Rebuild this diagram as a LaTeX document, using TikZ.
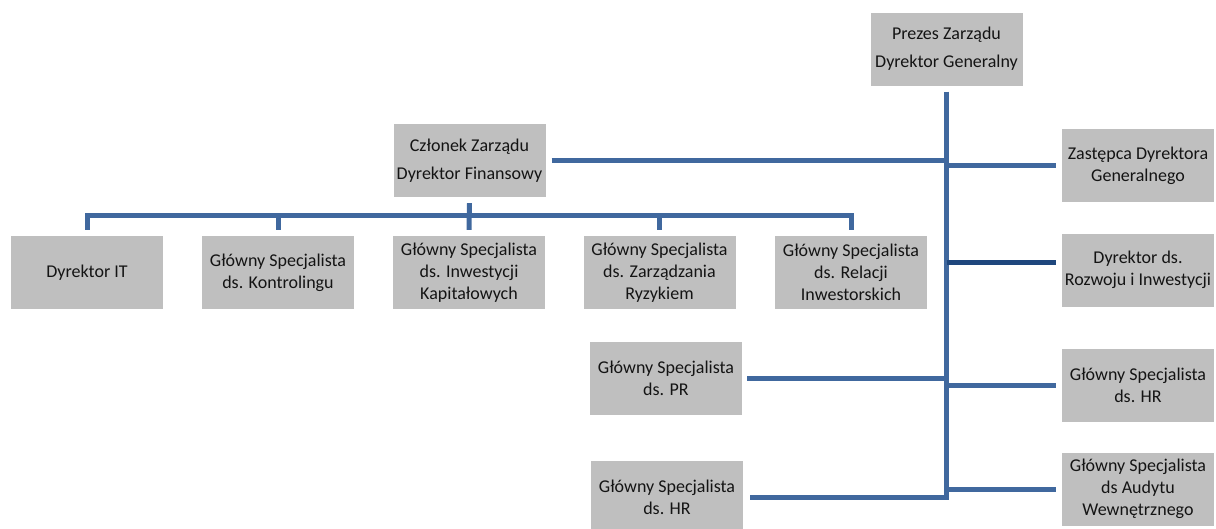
\documentclass[tikz,border=0pt]{standalone}
\usepackage{fontspec}
\setmainfont{Carlito}
\usetikzlibrary{calc}
\definecolor{boxgray}{RGB}{191,191,191}
\definecolor{linkblue}{RGB}{64,104,158}
\definecolor{darkblue}{RGB}{31,71,125}
\definecolor{txt}{RGB}{20,20,20}
\begin{document}
\begin{tikzpicture}[x=1pt,y=-1pt,
  box/.style={fill=boxgray, minimum width=152pt, minimum height=73pt, inner sep=0pt,
    align=center, text=txt, font=\fontsize{18}{22}\selectfont},
  conn/.style={draw=linkblue, line width=5pt}]
\useasboundingbox (0,0) rectangle (1216,528);
\clip (0,0) rectangle (1216,528);
% nodes
\node[box] (prezes) at (946.5,49) {Prezes Zarządu\\[6pt]Dyrektor Generalny};
\node[box] (czlonek) at (469.5,160.5) {Członek Zarządu\\[6pt]Dyrektor Finansowy};
\node[box] (zastepca) at (1138,165.5) {Zastępca Dyrektora\\Generalnego};
\node[box] (dit) at (87,272.5) {Dyrektor IT};
\node[box] (kontr) at (278,272.5) {Główny Specjalista\\ds. Kontrolingu};
\node[box] (inwest) at (469,272.5) {Główny Specjalista\\ds. Inwestycji\\Kapitałowych};
\node[box] (zarz) at (659.5,272.5) {Główny Specjalista\\ds. Zarządzania\\Ryzykiem};
\node[box] (relacji) at (851,272.5) {Główny Specjalista\\ds. Relacji\\Inwestorskich};
\node[box] (rozwoju) at (1138,270) {Dyrektor ds.\\Rozwoju i Inwestycji};
\node[box] (pr) at (666,378) {Główny Specjalista\\ds. PR};
\node[box] (hrr) at (1138,385.5) {Główny Specjalista\\ds. HR};
\node[box] (hrl) at (667,497.5) {Główny Specjalista\\ds. HR};
\node[box] (audytu) at (1138,489) {Główny Specjalista\\ds Audytu\\Wewnętrznego};
% trunk
\coordinate (trunkend) at ($(prezes.south |- hrl.east)+(0,2)$);
\draw[conn] ([yshift=-6pt]prezes.south) -- (trunkend);
% connections to trunk
\draw[conn, shorten <=6pt] (czlonek.east) -- (czlonek.east -| prezes.south);
\draw[conn, shorten >=6pt] (zastepca.west -| prezes.south) -- (zastepca.west);
\coordinate (rz) at ($(rozwoju.west)+(0,-8)$);
\draw[conn, draw=darkblue, shorten >=6pt] (rz -| prezes.south) -- (rz);
\draw[conn, shorten <=5pt] (pr.east) -- (pr.east -| prezes.south);
\draw[conn, shorten >=6pt] (hrr.west -| prezes.south) -- (hrr.west);
\draw[conn, shorten <=7pt] ([yshift=0.5pt]hrl.east) -- ([yshift=0.5pt]hrl.east -| prezes.south);
\draw[conn, shorten >=6pt] (audytu.west -| prezes.south) -- (audytu.west);
% finance bus
\draw[conn] ([yshift=6pt]dit.north) -- ([yshift=20pt]dit.north)
  -- ([yshift=20pt]relacji.north) -- ([yshift=6pt]relacji.north);
\foreach \n in {kontr,zarz} \draw[conn] ([yshift=6pt]\n.north) -- ([yshift=20pt]\n.north);
\draw[conn] ([yshift=-6pt]czlonek.south) -- ([yshift=6pt]inwest.north);
\end{tikzpicture}
\end{document}
